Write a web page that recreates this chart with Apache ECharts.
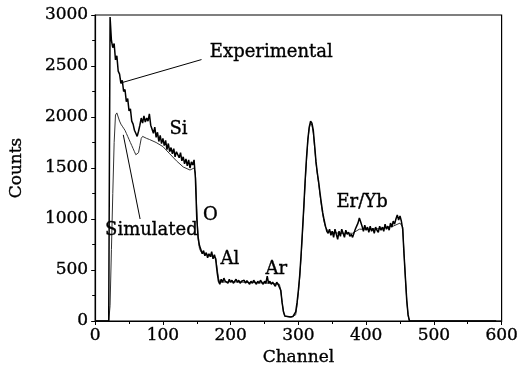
<!DOCTYPE html>
<html><head><meta charset="utf-8">
<script src="https://cdn.jsdelivr.net/npm/echarts@6/dist/echarts.min.js"></script>
<style>html,body{margin:0;padding:0;background:#fff}#c{width:521px;height:372px}</style>
</head><body><div id="c"></div>
<script>
// Experimental spectrum: counts at channels 0,2,4,... (step 2)
var expStep = 2;
var expCounts = [
0,0,0,0,0,0,0,0,0,0,0,
2980,2750,2680,2720,2560,2600,2450,2420,2330,2360,2250,2270,2150,2180,2060,2080,1960,1930,1870,1840,1810,1860,1920,1990,1940,2010,1950,1990,1960,2030,1920,
1880,1840,1900,1800,1850,1760,1820,1740,1790,1720,1770,1680,1740,1660,1700,1640,1690,1610,1660,1630,1600,1650,1570,1610,1540,1590,1520,1580,1500,1560,1530,1580,
1400,1000,820,740,700,660,690,640,670,620,660,630,680,610,650,600,
480,390,360,410,380,420,390,400,370,410,380,400,370,390,410,380,400,370,390,380,400,370,395,380,360,390,370,400,380,360,390,370,400,380,360,390,370,440,370,390,360,380,370,340,380,360,370,
300,180,90,50,40,45,35,40,50,45,60,90,180,300,450,650,880,1120,1380,1600,1780,1900,1960,1940,1870,1720,1560,1450,1360,1250,1150,1060,990,930,880,
860,900,840,880,820,900,850,800,880,830,900,860,820,890,850,870,830,850,820,860,900,930,960,1010,970,930,880,940,890,920,870,930,880,910,860,920,890,870,930,890,920,880,950,900,930,890,960,920,980,950,1000,1040,990,1030,980,900,
650,420,200,60,0,0,0,0,0,0,0,0,0,0,0,0,0,0,0,0,0,0,0,0,0,0,0,0,0,0,0,0,0,0,0,0,0,0,0,0,0,0,0,0,0,0,0,0,0,0,0,0,0,0,0,0,0,0,0,0,0,0,0,0,0,0,0,0,0
];
// Simulated spectrum
var simChannel = [0,20,22,24,26,28,30,32,34,36,38,40,42,44,46,48,50,52,54,56,58,60,62,64,66,68,70,72,76,80,90,100,110,120,130,140,146,148,150,152,154,156,160,170,178,180,182,184,200,220,240,260,272,274,276,278,280,290,296,298,300,302,304,306,308,310,312,314,316,318,320,322,324,326,328,330,332,334,336,338,340,344,350,360,370,380,390,400,420,440,450,454,456,458,460,462,464,600];
var simCounts  = [0,0,150,700,1250,1750,2020,2040,2000,1960,1930,1910,1890,1870,1840,1810,1780,1750,1720,1690,1660,1630,1620,1650,1720,1790,1810,1800,1790,1780,1750,1710,1640,1570,1510,1480,1500,1450,1100,800,710,680,660,640,620,520,420,380,385,380,375,370,360,300,180,90,45,40,60,150,280,430,630,860,1100,1350,1580,1770,1890,1940,1920,1840,1700,1550,1440,1340,1230,1130,1040,970,920,880,870,860,860,860,900,900,905,930,960,920,660,420,200,50,0,0];
// Annotations (data coordinates of label centres)
var annText = ['Experimental','Simulated','Si','O','Al','Ar','Er/Yb'];
var annX    = [260, 83, 123, 170, 199, 267.5, 394];
var annY    = [2632, 892, 1875, 1040, 605, 508, 1160];
var pointerLines = [
  [[38, 2334], [157, 2563]],
  [[41.5, 1825], [66.3, 1000]]
];

var expData = expCounts.map(function(v,i){return [i*expStep, v];});
var simData = simChannel.map(function(c,i){return [c, simCounts[i]];});

var font = 'DejaVu Serif';
var txt = {fontFamily:font, color:'#000', textBorderColor:'#000', textBorderWidth:0.35};
function st(size, extra){ var o = Object.assign({fontSize:size}, txt); return Object.assign(o, extra||{}); }
var chart = echarts.init(document.getElementById('c'), null, {renderer:'canvas'});
chart.setOption({
  animation:false,
  backgroundColor:'#fff',
  grid:{left:95, right:14, top:15, bottom:51, show:true, borderColor:'#000', borderWidth:1.2},
  xAxis:{type:'value', min:0, max:600, interval:100,
    name:'Channel', nameLocation:'middle', nameGap:24,
    nameTextStyle:st(17),
    axisLine:{lineStyle:{color:'#000', width:1.2}},
    axisTick:{inside:false, length:4, lineStyle:{color:'#000'}},
    minorTick:{show:true, splitNumber:2, length:3, lineStyle:{color:'#000'}},
    splitLine:{show:false},
    axisLabel:st(17, {margin:6, formatter:function(v){return String(v);}})},
  yAxis:{type:'value', min:0, max:3000, interval:500,
    name:'Counts', nameLocation:'middle', nameGap:70,
    nameTextStyle:st(17),
    axisLine:{lineStyle:{color:'#000', width:1.2}},
    axisTick:{inside:false, length:4, lineStyle:{color:'#000'}},
    minorTick:{show:true, splitNumber:2, length:3, lineStyle:{color:'#000'}},
    splitLine:{show:false},
    axisLabel:st(17, {margin:7, formatter:function(v){return String(v);}})},
  series:[
    {type:'line', name:'Simulated', data:simData, symbol:'none', z:2,
     lineStyle:{color:'#333', width:1},
     markLine:{silent:true, symbol:['none','none'], label:{show:false},
       lineStyle:{color:'#000', width:1, type:'solid', opacity:1},
       emphasis:{disabled:true},
       data: pointerLines.map(function(p){return [{coord:p[0]},{coord:p[1]}];})}},
    {type:'line', name:'Experimental', data:expData, symbol:'none', z:3,
     lineStyle:{color:'#000', width:1.5}}
  ]
});
// Annotation texts placed via the chart's own coordinate conversion
var g = annText.map(function(t,i){
  var p = chart.convertToPixel({gridIndex:0}, [annX[i], annY[i]]);
  return {type:'text', x:p[0], y:p[1], z:10, silent:true,
    style:{text:t, fill:'#000', stroke:'#000', lineWidth:0.35, font:'18px "DejaVu Serif"', align:'center', verticalAlign:'middle'}};
});
chart.setOption({graphic:g});
</script></body></html>
